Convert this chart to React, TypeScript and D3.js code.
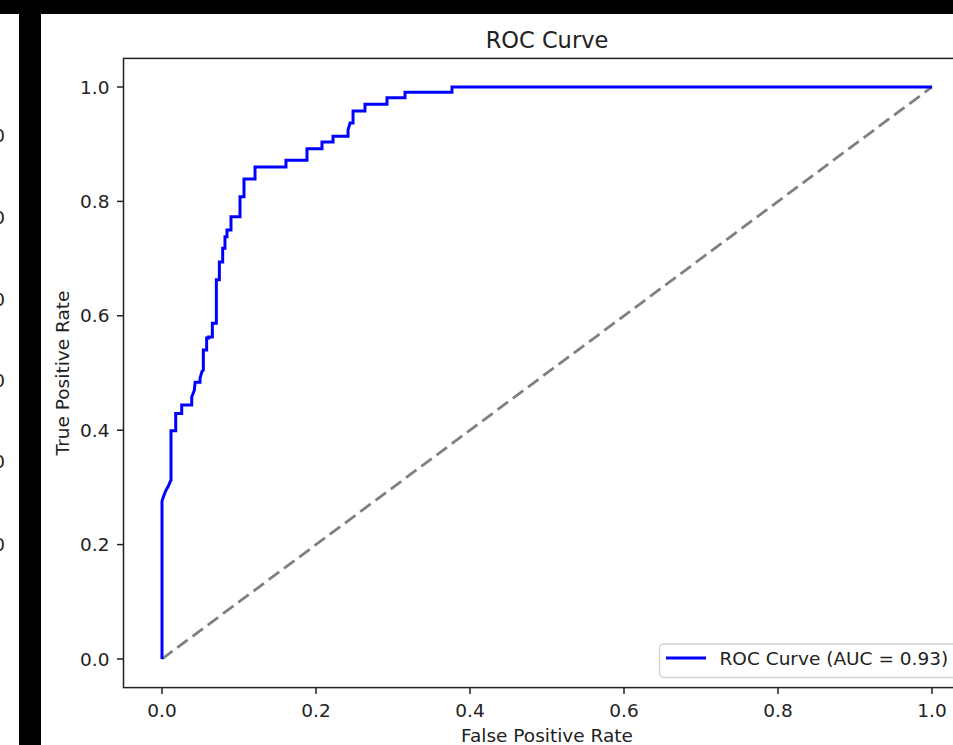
import React from "react";
import * as d3 from "d3";

// ROC curve vertices (false positive rate, true positive rate)
const fprValues = [
  0, 0, 0.0017, 0.0048, 0.0078, 0.0117, 0.0117, 0.0178, 0.0178, 0.0256, 0.0256,
  0.0386, 0.0386, 0.042, 0.043, 0.0494, 0.0494, 0.052, 0.0537, 0.0537, 0.058,
  0.058, 0.0606, 0.0606, 0.0654, 0.0654, 0.0706, 0.0706, 0.0745, 0.0745,
  0.0788, 0.0788, 0.0818, 0.0818, 0.0844, 0.0844, 0.0896, 0.0896, 0.1013,
  0.1013, 0.1065, 0.1065, 0.1208, 0.1208, 0.161, 0.161, 0.1883, 0.1883, 0.2078,
  0.2078, 0.2221, 0.2221, 0.2416, 0.2416, 0.2442, 0.2481, 0.2481, 0.2636,
  0.2636, 0.2922, 0.2922, 0.3156, 0.3156, 0.3766, 0.3766, 1.0,
];
const tprValues = [
  0, 0.276, 0.283, 0.294, 0.301, 0.313, 0.399, 0.399, 0.429, 0.429, 0.444,
  0.444, 0.458, 0.47, 0.484, 0.484, 0.491, 0.503, 0.505, 0.54, 0.54, 0.561,
  0.561, 0.563, 0.563, 0.587, 0.587, 0.663, 0.663, 0.694, 0.694, 0.718, 0.718,
  0.738, 0.738, 0.75, 0.75, 0.773, 0.773, 0.808, 0.808, 0.839, 0.839, 0.86,
  0.86, 0.872, 0.872, 0.892, 0.892, 0.904, 0.904, 0.914, 0.914, 0.925, 0.937,
  0.937, 0.958, 0.958, 0.97, 0.97, 0.981, 0.981, 0.991, 0.991, 1.0, 1.0,
];

// chance diagonal
const chanceX = [0, 1];
const chanceY = [0, 1];

const xTicks = [0.0, 0.2, 0.4, 0.6, 0.8, 1.0];
const yTicks = [0.0, 0.2, 0.4, 0.6, 0.8, 1.0];
const aucValue = 0.93;

// clipped tick labels from a neighbouring panel on the far left
const sideLabels = ["0", "0", "0", "0", "0", "0"];
const sideLabelY = [136, 218, 300, 381, 462, 545];

const W = 953;
const H = 745;
const FONT = "DejaVu Sans, sans-serif";

export default function App() {
  const x = d3.scaleLinear().domain([-0.05, 1.05]).range([123.5, 970.5]);
  const y = d3.scaleLinear().domain([-0.05, 1.05]).range([687.6, 58.4]);

  const rocPts: [number, number][] = fprValues.map((f, i) => [f, tprValues[i]]);
  const chancePts: [number, number][] = chanceX.map((f, i) => [f, chanceY[i]]);
  const line = d3
    .line<[number, number]>()
    .x((d) => x(d[0]))
    .y((d) => y(d[1]));

  const [x0, x1] = x.range();
  const [yb, yt] = y.range();

  return (
    <svg
      width={W}
      height={H}
      style={{ position: "absolute", left: 0, top: 0, display: "block", background: "#fff" }}
      fontFamily={FONT}
    >
      <rect x={0} y={0} width={W} height={H} fill="#fff" />
      {/* neighbouring panel fragments */}
      {sideLabels.map((t, i) => (
        <text key={i} x={5} y={sideLabelY[i] + 6} fontSize={18} textAnchor="end" fill="#222">
          {t}
        </text>
      ))}
      <rect x={0} y={0} width={W} height={14} fill="#000" />
      <rect x={19} y={14} width={22} height={H - 14} fill="#000" />

      {/* title */}
      <text x={(x0 + x1) / 2} y={48} fontSize={22.5} textAnchor="middle" fill="#222">
        ROC Curve
      </text>

      {/* plot lines */}
      <path
        d={line(chancePts) ?? ""}
        fill="none"
        stroke="#808080"
        strokeWidth={2.8}
        strokeDasharray="13,6"
      />
      <path d={line(rocPts) ?? ""} fill="none" stroke="#0000ff" strokeWidth={3} strokeLinejoin="miter" />

      {/* frame */}
      <rect x={x0} y={yt} width={x1 - x0} height={yb - yt} fill="none" stroke="#222" strokeWidth={1.5} />

      {/* x axis */}
      {xTicks.map((t) => (
        <g key={"x" + t}>
          <line x1={x(t)} x2={x(t)} y1={yb} y2={yb + 6.5} stroke="#222" strokeWidth={1.5} />
          <text x={x(t)} y={yb + 29} fontSize={18.5} textAnchor="middle" fill="#222">
            {t.toFixed(1)}
          </text>
        </g>
      ))}
      <text x={(x0 + x1) / 2} y={742} fontSize={18.5} textAnchor="middle" fill="#222">
        False Positive Rate
      </text>

      {/* y axis */}
      {yTicks.map((t) => (
        <g key={"y" + t}>
          <line x1={x0 - 6.5} x2={x0} y1={y(t)} y2={y(t)} stroke="#222" strokeWidth={1.5} />
          <text x={x0 - 14} y={y(t) + 6.5} fontSize={18.5} textAnchor="end" fill="#222">
            {t.toFixed(1)}
          </text>
        </g>
      ))}
      <text
        transform={`translate(69, ${(yb + yt) / 2}) rotate(-90)`}
        fontSize={18.5}
        textAnchor="middle"
        fill="#222"
      >
        True Positive Rate
      </text>

      {/* legend */}
      <g>
        <rect x={659.5} y={644} width={320} height={33.5} rx={4} fill="#fff" fillOpacity={0.8} stroke="#d0d0d0" strokeWidth={1.3} />
        <line x1={666} x2={706} y1={658} y2={658} stroke="#0000ff" strokeWidth={3} />
        <text x={719.5} y={665} fontSize={18.5} fill="#222">
          {`ROC Curve (AUC = ${aucValue.toFixed(2)})`}
        </text>
      </g>
    </svg>
  );
}
